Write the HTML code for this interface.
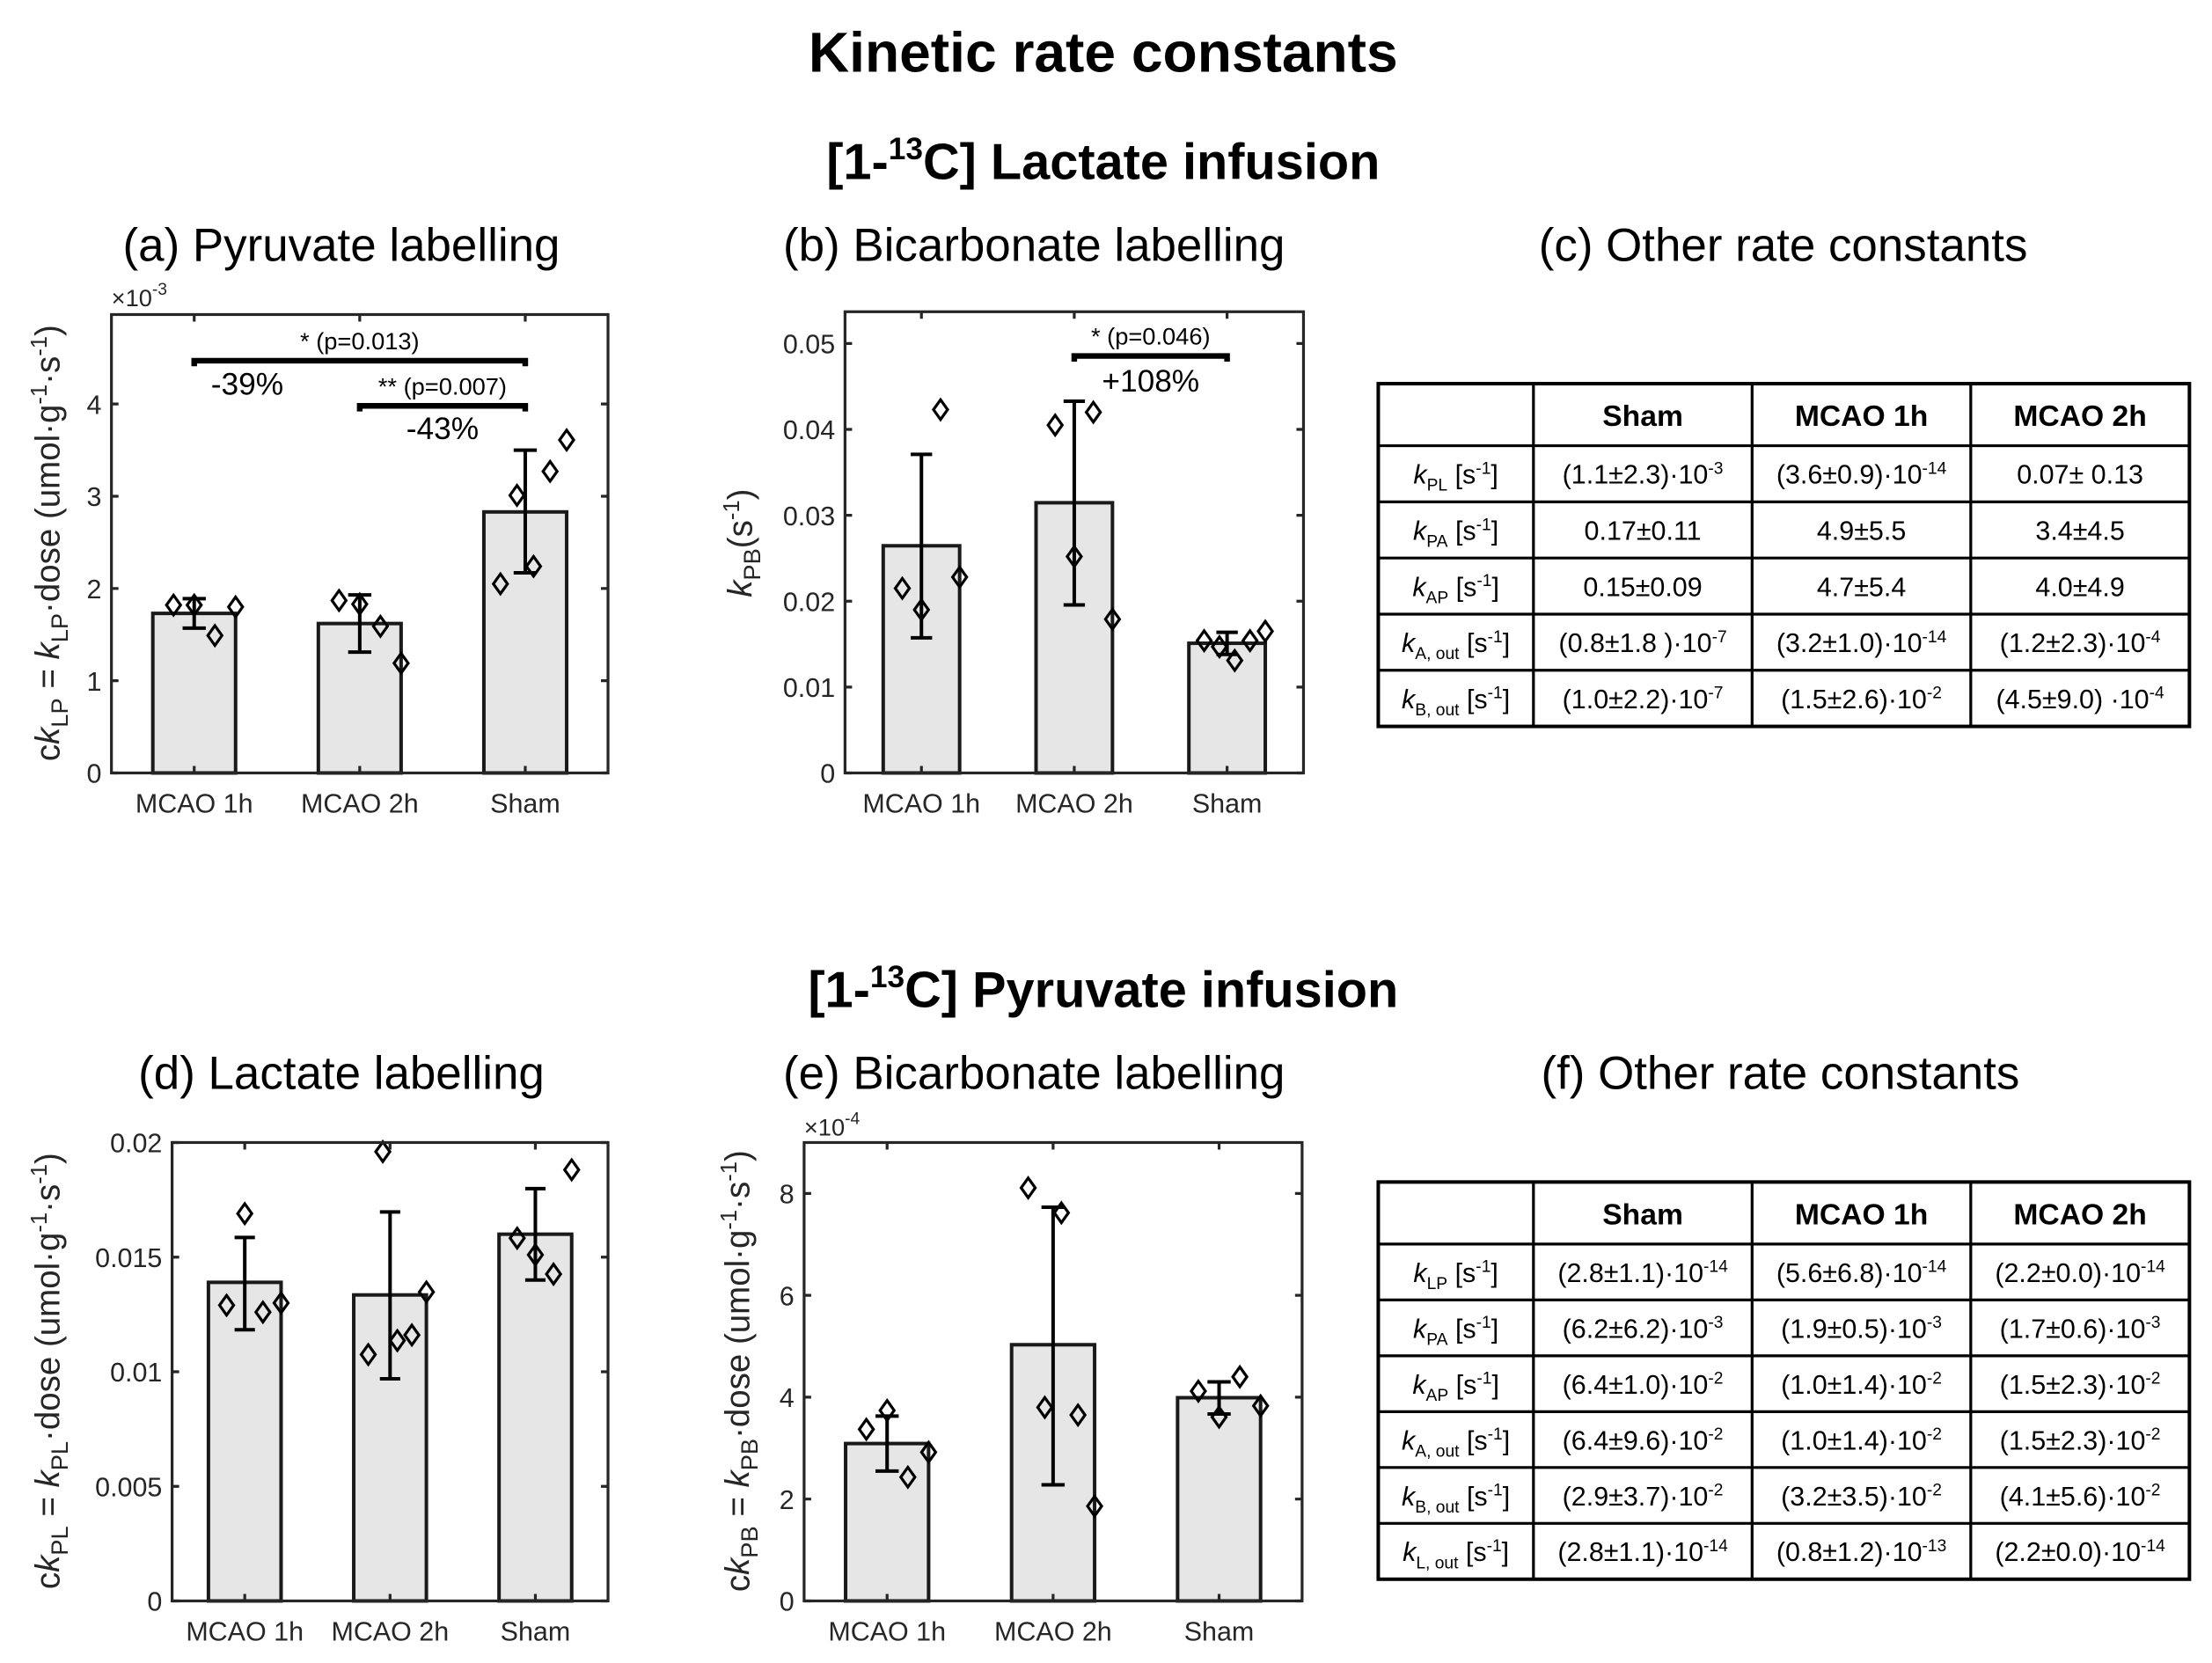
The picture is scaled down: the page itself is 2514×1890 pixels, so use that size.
<!DOCTYPE html>
<html><head><meta charset="utf-8"><style>
html,body{margin:0;padding:0;background:#fff;}
svg{display:block;}
text{font-family:"Liberation Sans",sans-serif;fill:#262626;}
.ttl{font-weight:bold;fill:#000;}
.tb{font-family:"Liberation Sans Narrow","Liberation Sans",sans-serif;fill:#000;}
</style></head><body>
<svg id="fig" width="2514" height="1890" viewBox="0 0 1568 1179" preserveAspectRatio="none" xmlns="http://www.w3.org/2000/svg">
<text class="ttl" x="782" y="51" font-size="40" text-anchor="middle">Kinetic rate constants</text>
<text class="ttl" x="782" y="127" font-size="36" text-anchor="middle">[1-<tspan font-size="22" dy="-14">13</tspan><tspan dy="14">C] Lactate infusion</tspan></text>
<text class="ttl" x="782" y="714" font-size="36" text-anchor="middle">[1-<tspan font-size="22" dy="-14">13</tspan><tspan dy="14">C] Pyruvate infusion</tspan></text>
<text x="242" y="185" font-size="33" text-anchor="middle" style="fill:#000">(a) Pyruvate labelling</text>
<text x="733" y="185" font-size="33" text-anchor="middle" style="fill:#000">(b) Bicarbonate labelling</text>
<text x="1264" y="185" font-size="33" text-anchor="middle" style="fill:#000">(c) Other rate constants</text>
<text x="242" y="772" font-size="33" text-anchor="middle" style="fill:#000">(d) Lactate labelling</text>
<text x="733" y="772" font-size="33" text-anchor="middle" style="fill:#000">(e) Bicarbonate labelling</text>
<text x="1262" y="772" font-size="33" text-anchor="middle" style="fill:#000">(f) Other rate constants</text>

<text x="79" y="217" font-size="17">×10<tspan font-size="12" dy="-8">-3</tspan></text>
<text x="570" y="805" font-size="17">×10<tspan font-size="12" dy="-8">-4</tspan></text>

<text transform="translate(42,385) rotate(-90)" font-size="24" text-anchor="middle">c<tspan font-style="italic">k</tspan><tspan font-size="17" dy="6">LP</tspan><tspan dy="-6"> = </tspan><tspan font-style="italic">k</tspan><tspan font-size="17" dy="6">LP</tspan><tspan dy="-6">·dose (umol·g</tspan><tspan font-size="16" dy="-9">-1</tspan><tspan dy="9">·s</tspan><tspan font-size="16" dy="-9">-1</tspan><tspan dy="9">)</tspan></text>
<text transform="translate(533,385) rotate(-90)" font-size="24" text-anchor="middle"><tspan font-style="italic">k</tspan><tspan font-size="17" dy="6">PB</tspan><tspan dy="-6">(s</tspan><tspan font-size="16" dy="-9">-1</tspan><tspan dy="9">)</tspan></text>
<text transform="translate(42,972) rotate(-90)" font-size="24" text-anchor="middle">c<tspan font-style="italic">k</tspan><tspan font-size="17" dy="6">PL</tspan><tspan dy="-6"> = </tspan><tspan font-style="italic">k</tspan><tspan font-size="17" dy="6">PL</tspan><tspan dy="-6">·dose (umol·g</tspan><tspan font-size="16" dy="-9">-1</tspan><tspan dy="9">·s</tspan><tspan font-size="16" dy="-9">-1</tspan><tspan dy="9">)</tspan></text>
<text transform="translate(531,972) rotate(-90)" font-size="24" text-anchor="middle">c<tspan font-style="italic">k</tspan><tspan font-size="17" dy="6">PB</tspan><tspan dy="-6"> = </tspan><tspan font-style="italic">k</tspan><tspan font-size="17" dy="6">PB</tspan><tspan dy="-6">·dose (umol·g</tspan><tspan font-size="16" dy="-9">-1</tspan><tspan dy="9">·s</tspan><tspan font-size="16" dy="-9">-1</tspan><tspan dy="9">)</tspan></text>
<g id="tables"></g>
</svg>
<script>
var NS="http://www.w3.org/2000/svg";
var svg=document.getElementById('fig');
var categories=["MCAO 1h","MCAO 2h","Sham"];
// (a)
var aBars=[1.73,1.62,2.83];
var aErrLo=[1.57,1.31,2.17];
var aErrHi=[1.89,1.93,3.50];
var aPts1=[1.82,1.82,1.49,1.80];
var aPts2=[1.87,1.83,1.59,1.19];
var aPts3=[2.05,3.01,2.24,3.27,3.61];
var aTicks=[0,1,2,3,4];
var aTickLabels=["0","1","2","3","4"];
// (b)
var bBars=[0.02645,0.03146,0.0151];
var bErrLo=[0.01573,0.01956,0.0138];
var bErrHi=[0.0371,0.04328,0.01637];
var bPts1=[0.0215,0.0190,0.0423,0.0228];
var bPts2=[0.0405,0.0252,0.0420,0.0179];
var bPts3=[0.0154,0.0147,0.0131,0.0154,0.0165];
var bTicks=[0,0.01,0.02,0.03,0.04,0.05];
var bTickLabels=["0","0.01","0.02","0.03","0.04","0.05"];
// (d)
var dBars=[0.0139,0.01335,0.0160];
var dErrLo=[0.01183,0.00969,0.0140];
var dErrHi=[0.01586,0.01697,0.01799];
var dPts1=[0.0129,0.0169,0.0126,0.0130];
var dPts2=[0.01075,0.0196,0.01136,0.0116,0.01348];
var dPts3=[0.01583,0.0151,0.01426,0.01881];
var dTicks=[0,0.005,0.01,0.015,0.02];
var dTickLabels=["0","0.005","0.01","0.015","0.02"];
// (e)
var eBars=[3.09,5.03,3.99];
var eErrLo=[2.55,2.28,3.67];
var eErrHi=[3.63,7.73,4.30];
var ePts1=[3.37,3.74,2.43,2.92];
var ePts2=[8.11,3.80,7.62,3.65,1.86];
var ePts3=[4.12,3.61,4.40,3.83];
var eTicks=[0,2,4,6,8];
var eTickLabels=["0","2","4","6","8"];

function el(tag,attrs,parent){var e=document.createElementNS(NS,tag);for(var k in attrs)e.setAttribute(k,attrs[k]);(parent||svg).appendChild(e);return e;}

function chart(id,box,ymax,bars,lo,hi,pts,ticks,tickLabels){
  var g=el('g',{});
  
  
  var L=box[0],R=box[1],T=box[2],B=box[3];
  function xs(v){return L+(v-0.5)/3*(R-L);}
  function ys(v){return B-v/ymax*(B-T);}
  var cw=(R-L)/3;
  for(var i=0;i<bars.length;i++){
    var r=el('rect',{x:xs(i+1)-cw*0.25,y:ys(bars[i]),width:cw*0.5,height:B-ys(bars[i]),fill:'#e6e6e6',stroke:'#1a1a1a','stroke-width':2.5},g);
    
    
  }
  for(var i=0;i<bars.length;i++){
    var cx=xs(i+1),cap=cw*0.07;
    var e=el('path',{d:'M'+cx+' '+ys(lo[i])+'V'+ys(hi[i])+'M'+(cx-cap)+' '+ys(lo[i])+'H'+(cx+cap)+'M'+(cx-cap)+' '+ys(hi[i])+'H'+(cx+cap),stroke:'#000','stroke-width':2.5,fill:'none'},g);
    
    
  }
  for(var i=0;i<pts.length;i++){
    var n=pts[i].length,step=0.5/n,start=0.25-(n-1)*step;
    for(var j=0;j<n;j++){
      var px=xs(i+1+start+j*step),py=ys(pts[i][j]);
      var d=el('path',{d:'M'+px+' '+(py-7)+'L'+(px+5)+' '+py+'L'+px+' '+(py+7)+'L'+(px-5)+' '+py+'Z',fill:'none',stroke:'#000','stroke-width':2},g);
      
      
    }
  }
  var ax=el('rect',{x:L,y:T,width:R-L,height:B-T,fill:'none',stroke:'#262626','stroke-width':2},g);
  
  
  for(var k=0;k<ticks.length;k++){
    var ty=ys(ticks[k]);
    el('path',{d:'M'+L+' '+ty+'h5M'+R+' '+ty+'h-5',stroke:'#262626','stroke-width':2},g);
    var t=el('text',{x:L-7,y:ty+7,'font-size':19,'text-anchor':'end'},g);
    t.textContent=tickLabels[k];
    
    
  }
  for(var i=0;i<categories.length;i++){
    var cx=xs(i+1);
    el('path',{d:'M'+cx+' '+B+'v-5M'+cx+' '+T+'v5',stroke:'#262626','stroke-width':2},g);
    var t=el('text',{x:cx,y:B+28,'font-size':19,'text-anchor':'middle'},g);
    t.textContent=categories[i];
    
    
  }
  return {g:g,xs:xs,ys:ys};
}
function sig(c,x1,x2,y,label,pct,pctX,pctY,id){
  var p=el('path',{d:'M'+c.xs(x1)+' '+(c.ys(y)+4)+'V'+c.ys(y)+'H'+c.xs(x2)+'V'+(c.ys(y)+4),stroke:'#000','stroke-width':4,fill:'none'},c.g);
  
  
  var t=el('text',{x:(c.xs(x1)+c.xs(x2))/2,y:c.ys(y)-8,'font-size':17,'text-anchor':'middle',style:'fill:#000'},c.g);
  t.textContent=label;
  
  
  var q=el('text',{x:c.xs(pctX),y:c.ys(pctY),'font-size':22,'text-anchor':'middle',style:'fill:#000'},c.g);
  q.textContent=pct;
  
  
}
var ca=chart('a',[79,431,223,548],4.97,aBars,aErrLo,aErrHi,[aPts1,aPts2,aPts3],aTicks,aTickLabels);
sig(ca,1,3,4.47,'* (p=0.013)','-39%',1.32,4.1,'a1');
sig(ca,2,3,3.98,'** (p=0.007)','-43%',2.5,3.62,'a2');
var cb=chart('b',[599,924,221,548],0.0537,bBars,bErrLo,bErrHi,[bPts1,bPts2,bPts3],bTicks,bTickLabels);
sig(cb,2,3,0.04855,'* (p=0.046)','+108%',2.5,0.0444,'b1');
chart('d',[122,431,810,1135],0.02,dBars,dErrLo,dErrHi,[dPts1,dPts2,dPts3],dTicks,dTickLabels);
chart('e',[570,923,810,1135],9,eBars,eErrLo,eErrHi,[ePts1,ePts2,ePts3],eTicks,eTickLabels);

// tables
var colX=[977,1087,1242,1397,1552];
var tabC={top:272,head:44,rowH:39.8,rows:[
 ['PL','','(1.1±2.3)·10','-3','(3.6±0.9)·10','-14','0.07± 0.13',''],
 ['PA','','0.17±0.11','','4.9±5.5','','3.4±4.5',''],
 ['AP','','0.15±0.09','','4.7±5.4','','4.0±4.9',''],
 ['A, out','','(0.8±1.8 )·10','-7','(3.2±1.0)·10','-14','(1.2±2.3)·10','-4'],
 ['B, out','','(1.0±2.2)·10','-7','(1.5±2.6)·10','-2','(4.5±9.0) ·10','-4']]};
var tabF={top:838,head:44,rowH:39.6,rows:[
 ['LP','','(2.8±1.1)·10','-14','(5.6±6.8)·10','-14','(2.2±0.0)·10','-14'],
 ['PA','','(6.2±6.2)·10','-3','(1.9±0.5)·10','-3','(1.7±0.6)·10','-3'],
 ['AP','','(6.4±1.0)·10','-2','(1.0±1.4)·10','-2','(1.5±2.3)·10','-2'],
 ['A, out','','(6.4±9.6)·10','-2','(1.0±1.4)·10','-2','(1.5±2.3)·10','-2'],
 ['B, out','','(2.9±3.7)·10','-2','(3.2±3.5)·10','-2','(4.1±5.6)·10','-2'],
 ['L, out','','(2.8±1.1)·10','-14','(0.8±1.2)·10','-13','(2.2±0.0)·10','-14']]};
function table(t,id){
  var g=el('g',{});
  
  
  var n=t.rows.length,bot=t.top+t.head+n*t.rowH;
  el('rect',{x:colX[0],y:t.top,width:colX[4]-colX[0],height:bot-t.top,fill:'#fff',stroke:'#000','stroke-width':2.5},g);
  for(var i=1;i<4;i++)el('line',{x1:colX[i],x2:colX[i],y1:t.top,y2:bot,stroke:'#000','stroke-width':2},g);
  for(var r=0;r<n;r++){var yy=t.top+t.head+r*t.rowH;el('line',{x1:colX[0],x2:colX[4],y1:yy,y2:yy,stroke:'#000','stroke-width':2},g);}
  var hd=['Sham','MCAO 1h','MCAO 2h'];
  for(var i=0;i<3;i++){
    var h=el('text',{'class':'tb',x:(colX[i+1]+colX[i+2])/2,y:t.top+30,'font-size':21,'font-weight':'bold','text-anchor':'middle'},g);
    h.textContent=hd[i];
    
    
  }
  for(var r=0;r<n;r++){
    var yy=t.top+t.head+r*t.rowH+t.rowH/2+7,row=t.rows[r];
    var lab=el('text',{'class':'tb',x:(colX[0]+colX[1])/2,y:yy,'font-size':19,'text-anchor':'middle'},g);
    lab.innerHTML='<tspan font-style="italic">k</tspan><tspan font-size="12" dy="5">'+row[0]+'</tspan><tspan dy="-5"> [s</tspan><tspan font-size="12" dy="-7">-1</tspan><tspan dy="7">]</tspan>';
    
    
    for(var c=0;c<3;c++){
      var v=el('text',{'class':'tb',x:(colX[c+1]+colX[c+2])/2,y:yy,'font-size':19,'text-anchor':'middle'},g);
      v.innerHTML=row[2+2*c]+(row[3+2*c]?'<tspan font-size="12" dy="-7">'+row[3+2*c]+'</tspan>':'');
      
      
    }
  }
}
table(tabC,'c');
table(tabF,'f');
</script>
</body></html>
